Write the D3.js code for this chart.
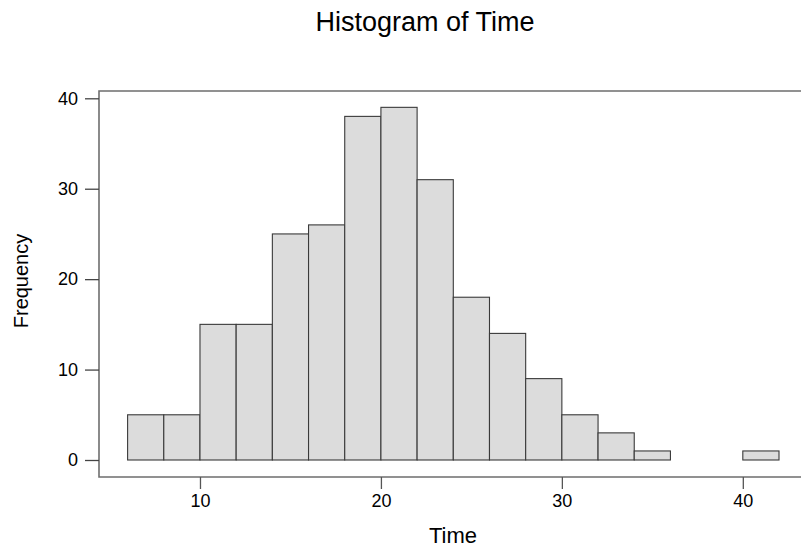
<!DOCTYPE html>
<html>
<head>
<meta charset="utf-8">
<script src="https://cdn.jsdelivr.net/npm/d3@7"></script>
<style>
  body { margin: 0; background: #fff; }
  text { font-family: "Liberation Sans", Arial, sans-serif; fill: #000; }
</style>
</head>
<body>
<script>
// histogram bins (Time), width 2, starting at 6
const binLower = [6, 8, 10, 12, 14, 16, 18, 20, 22, 24, 26, 28, 30, 32, 34, 36, 38, 40];
const binUpper = [8, 10, 12, 14, 16, 18, 20, 22, 24, 26, 28, 30, 32, 34, 36, 38, 40, 42];
const counts   = [5, 5, 15, 15, 25, 26, 38, 39, 31, 18, 14, 9, 5, 3, 1, 0, 0, 1];
const xTicks = [10, 20, 30, 40];
const yTicks = [0, 10, 20, 30, 40];

const W = 801, H = 553;
const frame = { left: 99, top: 91, right: 801, bottom: 477 };

const svg = d3.select("body").append("svg")
    .attr("width", W)
    .attr("height", H);

const x = d3.scaleLinear().domain([6, 42]).range([127.6, 779]);
const y = d3.scaleLinear().domain([0, 40]).range([460, 98.3]);

const bins = binLower.map((lo, i) => ({ lo: lo, hi: binUpper[i], n: counts[i] }));

// bars
svg.append("g")
    .selectAll("rect")
    .data(bins)
    .enter()
    .append("rect")
    .attr("x", d => x(d.lo))
    .attr("y", d => y(d.n))
    .attr("width", d => x(d.hi) - x(d.lo))
    .attr("height", d => y(0) - y(d.n))
    .attr("fill", "#dcdcdc")
    .attr("stroke", "#3a3a3a")
    .attr("stroke-width", 1.1);

// frame (left, top, bottom)
svg.append("path")
    .attr("d", `M${frame.right},${frame.top}H${frame.left}V${frame.bottom}H${frame.right}`)
    .attr("fill", "none")
    .attr("stroke", "#6e6e6e")
    .attr("stroke-width", 1.6);

// y axis
const yAxis = svg.append("g")
    .attr("transform", `translate(${frame.left},0)`)
    .call(d3.axisLeft(y).tickValues(yTicks).tickSize(14).tickPadding(7));
yAxis.select(".domain").remove();
yAxis.selectAll("line").attr("stroke", "#444").attr("stroke-width", 1.3);
yAxis.selectAll("text")
    .style("font-size", "18px")
    .style("font-family", "Liberation Sans, Arial, sans-serif")
    .attr("fill", "#000");

// x axis
const xAxis = svg.append("g")
    .attr("transform", `translate(0,${frame.bottom})`)
    .call(d3.axisBottom(x).tickValues(xTicks).tickSize(12).tickPadding(5));
xAxis.select(".domain").remove();
xAxis.selectAll("line").attr("stroke", "#555").attr("stroke-width", 1.3);
xAxis.selectAll("text")
    .style("font-size", "18px")
    .style("font-family", "Liberation Sans, Arial, sans-serif")
    .attr("fill", "#000");

// title and axis labels
svg.append("text")
    .attr("x", 425)
    .attr("y", 31)
    .attr("text-anchor", "middle")
    .style("font-size", "27px")
    .text("Histogram of Time");

svg.append("text")
    .attr("x", 453)
    .attr("y", 543)
    .attr("text-anchor", "middle")
    .style("font-size", "22px")
    .text("Time");

svg.append("text")
    .attr("transform", "translate(28,281) rotate(-90)")
    .attr("text-anchor", "middle")
    .style("font-size", "20px")
    .text("Frequency");
</script>
</body>
</html>
